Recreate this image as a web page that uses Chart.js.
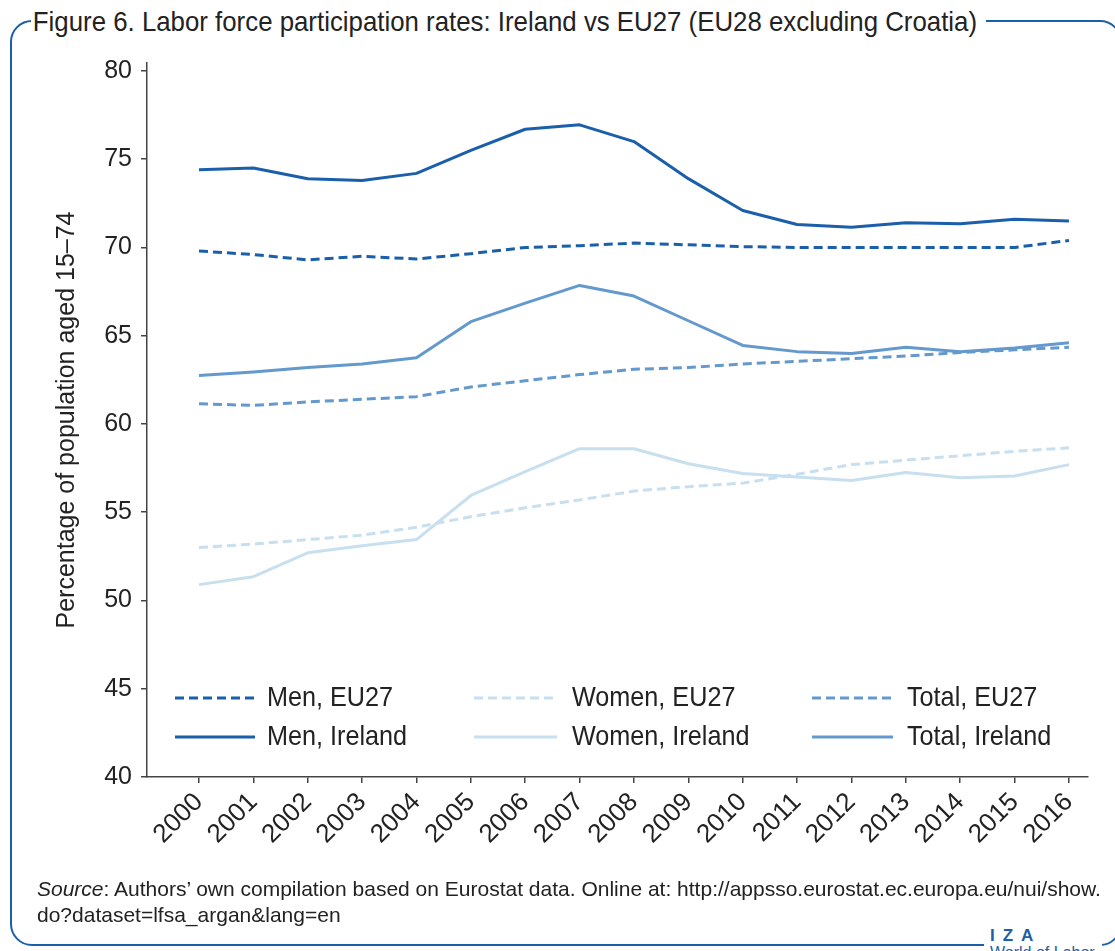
<!DOCTYPE html>
<html>
<head>
<meta charset="utf-8">
<script src="https://cdn.jsdelivr.net/npm/chart.js@4.4.0/dist/chart.umd.min.js"></script>
<style>
html,body{margin:0;padding:0;background:#fff;}
body{width:1115px;height:951px;overflow:hidden;position:relative;}
#wrap{position:absolute;left:0;top:0;width:1115px;height:951px;}
#frame{position:absolute;left:10px;top:20px;width:1112px;height:926px;border:2.5px solid #1a5fa8;border-radius:22px;box-sizing:border-box;}
#title{position:absolute;left:31px;top:5px;background:#fff;padding:0 10px 0 2px;font-family:"Liberation Sans",sans-serif;font-size:28px;color:#222;white-space:nowrap;line-height:34px;transform:scaleX(0.922);transform-origin:0 0;}
#source{position:absolute;left:37px;top:876px;font-family:"Liberation Sans",sans-serif;font-size:21px;color:#222;line-height:26px;white-space:nowrap;}
#logo{position:absolute;left:984px;top:926px;width:118px;height:30px;background:#fff;font-family:"Liberation Sans",sans-serif;color:#1a5fa8;}
#logo .iza{position:absolute;left:6px;top:1px;font-size:17px;font-weight:bold;letter-spacing:8px;line-height:18px;}
#logo .wol{position:absolute;left:6px;top:18px;font-size:16px;line-height:18px;white-space:nowrap;}
canvas{position:absolute;left:0;top:0;}
</style>
</head>
<body>
<div id="frame"></div>
<div id="wrap"><canvas id="c" width="1115" height="951"></canvas></div>
<div id="title">Figure 6. Labor force participation rates: Ireland vs EU27 (EU28 excluding Croatia)</div>
<div id="source"><i>Source</i>: Authors’ own compilation based on Eurostat data. Online at: http://appsso.eurostat.ec.europa.eu/nui/show.<br>do?dataset=lfsa_argan&amp;lang=en</div>
<div id="logo"><span class="iza">IZA</span><span class="wol">World of Labor</span></div>
<script>
const years = [2000,2001,2002,2003,2004,2005,2006,2007,2008,2009,2010,2011,2012,2013,2014,2015,2016];
const menEU27 = [69.8,69.6,69.3,69.5,69.35,69.65,70.0,70.1,70.25,70.15,70.05,70.0,70.0,70.0,70.0,70.0,70.4];
const womenEU27 = [53.0,53.2,53.45,53.7,54.15,54.75,55.25,55.7,56.2,56.45,56.65,57.15,57.7,57.95,58.2,58.45,58.65];
const totalEU27 = [61.15,61.05,61.25,61.4,61.55,62.1,62.45,62.8,63.1,63.2,63.4,63.55,63.7,63.85,64.05,64.2,64.35];
const menIreland = [74.4,74.5,73.9,73.8,74.2,75.5,76.7,76.95,76.0,73.9,72.1,71.3,71.15,71.4,71.35,71.6,71.5];
const womenIreland = [50.9,51.35,52.7,53.1,53.45,55.95,57.3,58.6,58.6,57.75,57.2,57.0,56.8,57.25,56.95,57.05,57.7];
const totalIreland = [62.75,62.95,63.2,63.4,63.75,65.8,66.85,67.85,67.25,65.85,64.45,64.1,64.0,64.35,64.1,64.3,64.6];
const seriesLabels = ["Men, EU27","Women, EU27","Total, EU27","Men, Ireland","Women, Ireland","Total, Ireland"];
const yTickValues = [40,45,50,55,60,65,70,75,80];

const C_MEN = '#1b5fab', C_WOMEN = '#c8dfef', C_TOTAL = '#6399cd';
const pts = arr => years.map((y,i)=>({x:y,y:arr[i]}));
function ds(label, arr, color, dashed){
  return {label, data: pts(arr), borderColor: color, backgroundColor: color, borderWidth: 3,
    borderDash: dashed ? [9,5] : [], pointRadius: 0, tension: 0, fill: false,
    borderJoinStyle: 'round', borderCapStyle: 'butt'};
}
const datasets = [
  ds(seriesLabels[0], menEU27, C_MEN, true),
  ds(seriesLabels[1], womenEU27, C_WOMEN, true),
  ds(seriesLabels[2], totalEU27, C_TOTAL, true),
  ds(seriesLabels[3], menIreland, C_MEN, false),
  ds(seriesLabels[4], womenIreland, C_WOMEN, false),
  ds(seriesLabels[5], totalIreland, C_TOTAL, false)
];

const legendPlugin = {
  id: 'gridLegend',
  afterDraw(chart){
    const ctx = chart.ctx;
    const cols = [{l0:175,l1:255,t:267},{l0:474,l1:557,t:572},{l0:812,l1:893,t:907}];
    const rows = [698,737];
    chart.data.datasets.forEach((d,i)=>{
      const c = cols[i%3], y = rows[Math.floor(i/3)];
      ctx.save();
      ctx.strokeStyle = d.borderColor; ctx.lineWidth = 3;
      ctx.setLineDash(d.borderDash || []);
      ctx.beginPath(); ctx.moveTo(c.l0,y); ctx.lineTo(c.l1,y); ctx.stroke();
      ctx.setLineDash([]);
      ctx.fillStyle = '#222';
      ctx.font = '28px "Liberation Sans", sans-serif';
      ctx.textBaseline = 'middle'; ctx.textAlign = 'left';
      ctx.translate(c.t, y); ctx.scale(0.9, 1);
      ctx.fillText(d.label, 0, 0);
      ctx.restore();
    });
  }
};

new Chart(document.getElementById('c'), {
  type: 'line',
  data: { datasets },
  plugins: [legendPlugin],
  options: {
    responsive: false, animation: false,
    layout: { padding: { left: 40, top: 63, right: 27, bottom: 74 } },
    plugins: { legend: { display: false }, tooltip: { enabled: false } },
    scales: {
      x: {
        type: 'linear', min: 1999.044, max: 2016.35, offset: false,
        afterFit: s => { s.height = 100; },
        afterBuildTicks: s => { s.ticks = years.map(v=>({value:v})); },
        grid: { drawOnChartArea: false, drawTicks: true, tickLength: 6, color: '#444', lineWidth: 1.5 },
        border: { display: true, color: '#444', width: 1.5 },
        ticks: { autoSkip: false, minRotation: 45, maxRotation: 45, padding: 4, color: '#222',
          font: { family: '"Liberation Sans"', size: 26 }, callback: v => String(v) }
      },
      y: {
        type: 'linear', min: 40, max: 80.453,
        afterFit: s => { s.width = 107; },
        afterBuildTicks: s => { s.ticks = yTickValues.map(v=>({value:v})); },
        grid: { drawOnChartArea: false, drawTicks: true, tickLength: 6, color: '#444', lineWidth: 1.5 },
        border: { display: true, color: '#444', width: 1.5 },
        ticks: { padding: 9, color: '#222', font: { family: '"Liberation Sans"', size: 25 }, callback: v => String(v) },
        title: { display: true, text: 'Percentage of population aged 15–74', color: '#222',
          font: { family: '"Liberation Sans"', size: 25 }, padding: { top: 12, bottom: 0 } }
      }
    }
  }
});
</script>
</body>
</html>
